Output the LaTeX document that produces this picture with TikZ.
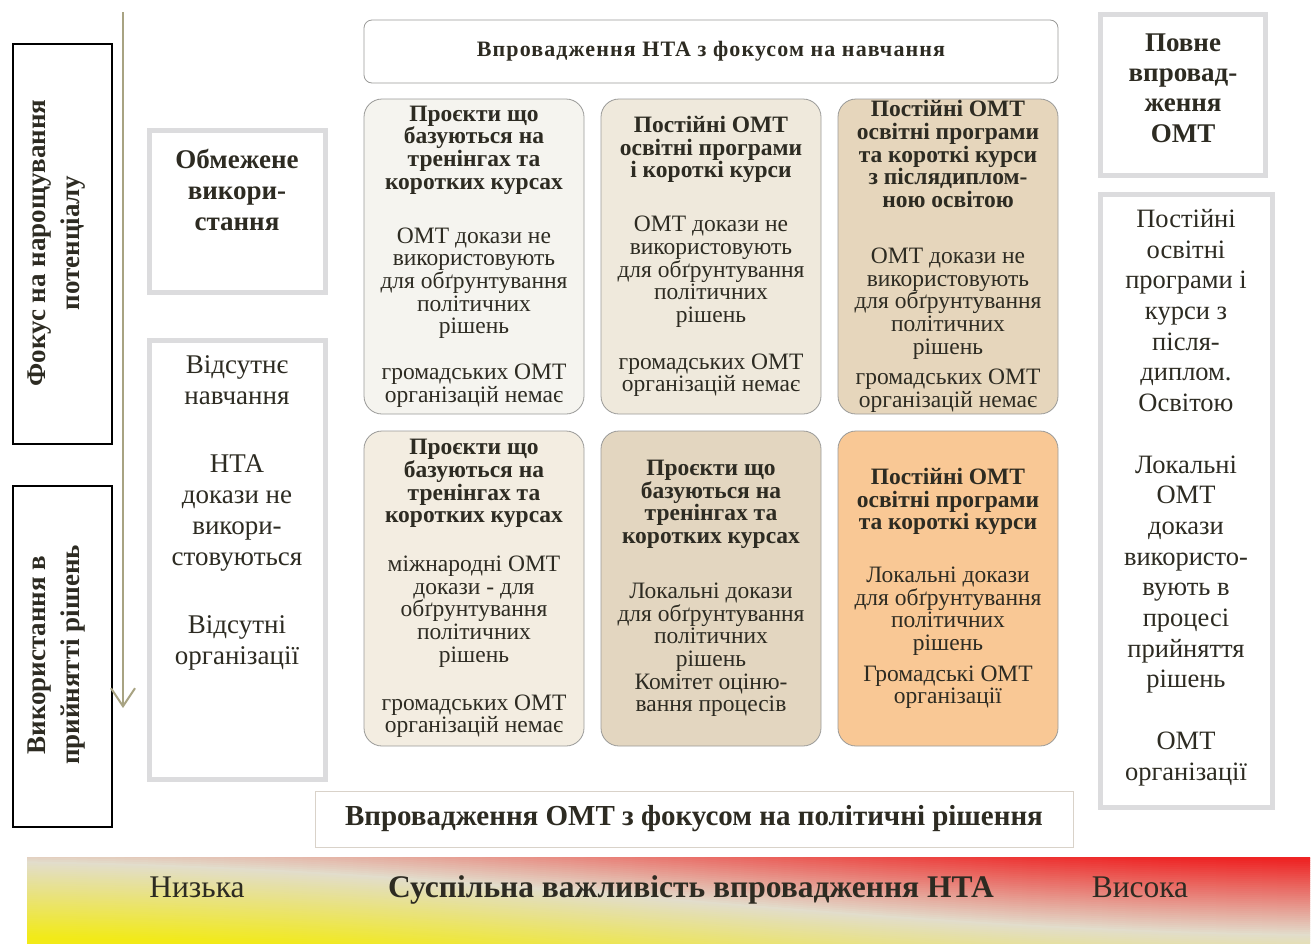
\documentclass[tikz,border=0pt]{standalone}
\usepackage{fontspec}
\setmainfont{Liberation Serif}
\usetikzlibrary{arrows.meta}
\definecolor{txt}{HTML}{2D2B22}
\definecolor{greyb}{HTML}{DCDCDE}
\definecolor{cardline}{HTML}{9A9A98}
\definecolor{polline}{HTML}{D9D2C9}
\definecolor{cA}{HTML}{F5F4EF}
\definecolor{cB}{HTML}{EFE9DC}
\definecolor{cC}{HTML}{E6D6BC}
\definecolor{cD}{HTML}{F3EDE1}
\definecolor{cE}{HTML}{E3D6C0}
\definecolor{cF}{HTML}{F9C895}
\definecolor{arrowc}{HTML}{A8A382}
\definecolor{bY}{HTML}{F2EA18}
\definecolor{bB}{HTML}{E2DDCC}
\definecolor{bR}{HTML}{EE2424}
\tikzset{
  blackbox/.style={draw=black, line width=2pt, fill=white, inner sep=0pt},
  greybox/.style={draw=greyb, line width=5pt, fill=white, inner sep=0pt},
  card/.style={draw=cardline, line width=0.8pt, rounded corners=18pt, inner sep=0pt, minimum width=220pt, minimum height=315pt},
  cardtxt/.style={align=center, text=txt, inner sep=0pt, font=\fontsize{23.5}{22.7}\selectfont},
  sidetxt/.style={align=center, text=txt, inner sep=0pt, font=\fontsize{27}{31}\selectfont},
  rottxt/.style={align=center, text=txt, inner sep=0pt, rotate=90, font=\fontsize{27}{34}\selectfont\bfseries},
  bandtxt/.style={text=txt, inner sep=0pt, anchor=base, font=\fontsize{31.5}{34}\selectfont}
}
\begin{document}
\begin{tikzpicture}[x=1pt,y=-1pt]
\useasboundingbox (0,0) rectangle (1315,943);
% gradient band
\begin{scope}
\clip (27,857) rectangle (1310,943);
\foreach \s in {-100,-98,...,100} {
  \pgfmathsetmacro\pct{min(100,abs(\s)/75*100)}
  \ifnum\s<0 \colorlet{stripc}{bR!\pct!bB}\else\colorlet{stripc}{bY!\pct!bB}\fi
  \pgfmathsetmacro\ya{861+\s}
  \pgfmathsetmacro\yb{866+\s}
  \pgfmathsetmacro\yc{930+\s}
  \pgfmathsetmacro\yd{934+\s}
  \fill[stripc] (0,\ya) .. controls (500,\yb) and (830,\yc) .. (1320,\yd) -- ++(0,3) .. controls (830,\yc+3) and (500,\yb+3) .. (0,\ya+3) -- cycle;
}
\end{scope}
\node[bandtxt] (low) at (197,897.5) {Низька};
\node[bandtxt, font=\fontsize{31.5}{34}\selectfont\bfseries] (imp) at (691,897.5) {Суспільна важливість впровадження НТА};
\node[bandtxt] (high) at (1140,897.5) {Висока};
% left black boxes
\node[blackbox, minimum width=99pt, minimum height=400pt] (foc) at (62.5,244) {};
\node[rottxt] (foct) at (57,243) {Фокус на нарощування\\потенціалу};
\node[blackbox, minimum width=99pt, minimum height=341pt] (use) at (62.5,656.5) {};
\node[rottxt] (uset) at (57,655) {Використання в\\прийнятті рішень};
% arrow
\coordinate (atop) at (123,12);
\coordinate (abot) at (123,708);
\draw[arrowc, line width=2pt, -{Straight Barb[length=18pt, width=24pt]}] (atop) -- (abot);
% grey side boxes
\node[greybox, minimum width=176pt, minimum height=162pt] (obm) at (237.5,211.5) {};
\node[sidetxt, font=\fontsize{27}{31}\selectfont\bfseries] (obmt) at (237,190) {Обмежене\\викори-\\стання};
\node[greybox, minimum width=176pt, minimum height=439pt] (vid) at (237.5,560) {};
\node[sidetxt] (vidt) at (237,513) {Відсутнє\\навчання\\[37pt]НТА\\докази не\\викори-\\стовуються\\[37pt]Відсутні\\організації};
\node[greybox, minimum width=165pt, minimum height=161pt] (povne) at (1183,95) {};
\node[sidetxt, font=\fontsize{27}{30.3}\selectfont\bfseries] (povnet) at (1183,88) {Повне\\впровад-\\ження\\ОМТ};
\node[greybox, minimum width=172pt, minimum height=613pt] (post) at (1186.5,501) {};
\node[sidetxt, font=\fontsize{26.5}{30.7}\selectfont] (postt) at (1186,497.5) {Постійні\\освітні\\програми і\\курси з\\після-\\диплом.\\Освітою\\[30.7pt]Локальні\\ОМТ\\докази\\використо-\\вують в\\процесі\\прийняття\\рішень\\[30.7pt]ОМТ\\організації};
% top and bottom headers
\node[draw=cardline, line width=0.8pt, rounded corners=8pt, fill=white, minimum width=694pt, minimum height=63pt, text=txt, font=\fontsize{22}{24}\selectfont\bfseries\addfontfeature{LetterSpace=5}] (nta) at (711,51.5) {Впровадження НТА з фокусом на навчання};
\node[draw=polline, line width=0.8pt, fill=white, minimum width=758pt, minimum height=56pt, text=txt, font=\fontsize{29}{32}\selectfont\bfseries] (pol) at (694,819) {Впровадження ОМТ з фокусом на політичні рішення};
% cards
\node[card, fill=cA] (p1) at (474,256.5) {};
\node[card, fill=cB] (p2) at (711,256.5) {};
\node[card, fill=cC] (p3) at (948,256.5) {};
\node[card, fill=cD] (p4) at (474,588.5) {};
\node[card, fill=cE] (p5) at (711,588.5) {};
\node[card, fill=cF] (p6) at (948,588.5) {};
\node[cardtxt] (t1) at (p1) {\textbf{Проєкти що}\\\textbf{базуються на}\\\textbf{тренінгах та}\\\textbf{коротких курсах}\\[31pt]ОМТ докази не\\використовують\\для обґрунтування\\політичних\\рішень\\[23pt]громадських ОМТ\\організацій немає};
\node[cardtxt] (t2) at (p2) {\textbf{Постійні ОМТ}\\\textbf{освітні програми}\\\textbf{і короткі курси}\\[31pt]ОМТ докази не\\використовують\\для обґрунтування\\політичних\\рішень\\[24pt]громадських ОМТ\\організацій немає};
\node[cardtxt] (t3) at (p3) {\textbf{Постійні  ОМТ}\\\textbf{освітні програми}\\\textbf{та короткі курси}\\\textbf{з післядиплом-}\\\textbf{ною освітою}\\[33pt]ОМТ докази не\\використовують\\для обґрунтування\\політичних\\рішень\\[8pt]громадських ОМТ\\організацій немає};
\node[cardtxt] (t4) at (p4) {\textbf{Проєкти  що}\\\textbf{базуються на}\\\textbf{тренінгах та}\\\textbf{коротких курсах}\\[26pt]міжнародні ОМТ\\докази - для\\обґрунтування\\політичних\\рішень\\[25pt]громадських ОМТ\\організацій немає};
\node[cardtxt] (t5) at (p5) {\textbf{Проєкти  що}\\\textbf{базуються на}\\\textbf{тренінгах та}\\\textbf{коротких курсах}\\[32pt]Локальні докази\\для обґрунтування\\політичних\\рішень\\Комітет оціню-\\вання процесів};
\node[cardtxt] (t6) at (p6) {\textbf{Постійні  ОМТ}\\\textbf{освітні програми}\\\textbf{та короткі курси}\\[30pt]Локальні докази\\для обґрунтування\\політичних\\рішень\\[8pt]Громадські ОМТ\\організації};
\end{tikzpicture}
\end{document}
